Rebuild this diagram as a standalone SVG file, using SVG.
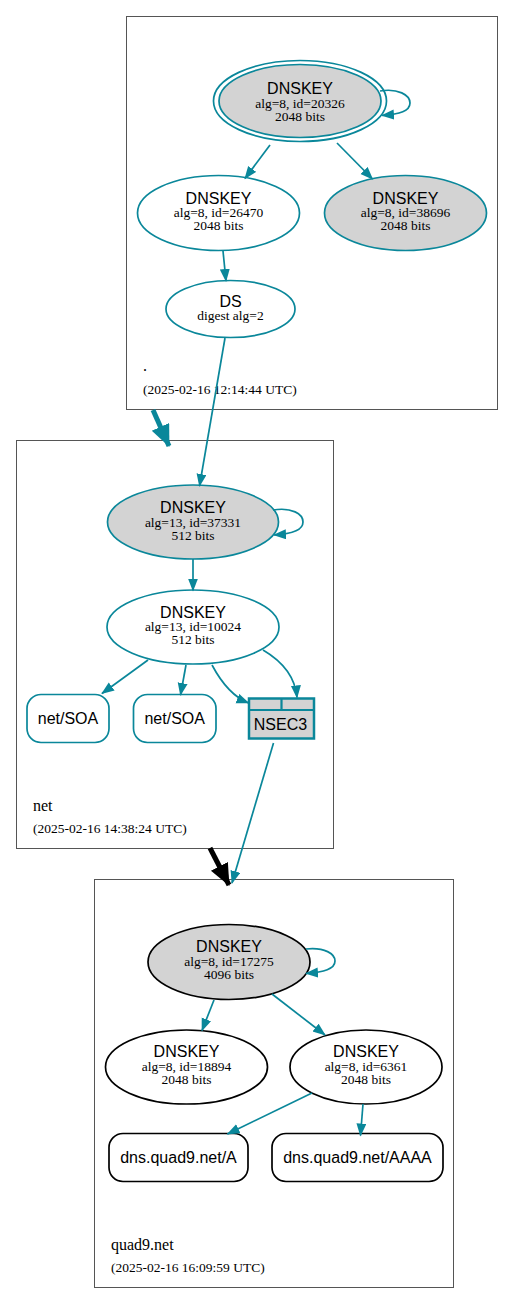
<svg xmlns="http://www.w3.org/2000/svg" width="513" height="1304" viewBox="0 0 513 1304">
<defs>
<style>
.box{fill:none;stroke:#555;stroke-width:1}
.t{stroke:#0a879a;stroke-width:1.7}
.k{stroke:#000;stroke-width:1.7}
.g{fill:#d3d3d3}
.w{fill:#fff}
.e{fill:none;stroke:#0a879a;stroke-width:1.7}
.h{font-family:"Liberation Sans",Arial,sans-serif;font-size:16px;text-anchor:middle;fill:#000}
.d{font-family:"Liberation Serif","Times New Roman",serif;font-size:13.5px;text-anchor:middle;fill:#000}
.lab{font-family:"Liberation Serif","Times New Roman",serif;font-size:16px;fill:#000}
.date{font-family:"Liberation Serif","Times New Roman",serif;font-size:13.5px;fill:#000}
</style>
<marker id="a" markerUnits="userSpaceOnUse" markerWidth="14" markerHeight="11" refX="12" refY="5" orient="auto"><path d="M0,0 L13,5 L0,10 z" fill="#0a879a"/></marker>
<marker id="bt" markerUnits="userSpaceOnUse" markerWidth="24" markerHeight="20" refX="21" refY="9.5" orient="auto"><path d="M0,0 L22,9.5 L0,19 z" fill="#0a879a"/></marker>
<marker id="bk" markerUnits="userSpaceOnUse" markerWidth="24" markerHeight="20" refX="21" refY="9.5" orient="auto"><path d="M0,0 L22,9.5 L0,19 z" fill="#000"/></marker>
</defs>

<g id="zone-root">
<rect class="box" x="126.5" y="16.5" width="371" height="393"/>
<text class="lab" x="143" y="371">.</text>
<text class="date" x="143" y="394">(2025-02-16 12:14:44 UTC)</text>
</g>
<g id="zone-net">
<rect class="box" x="16.5" y="440.5" width="317" height="408"/>
<text class="lab" x="33" y="811">net</text>
<text class="date" x="33" y="833">(2025-02-16 14:38:24 UTC)</text>
</g>
<g id="zone-quad9">
<rect class="box" x="94.5" y="879.5" width="359" height="408"/>
<text class="lab" x="111" y="1250">quad9.net</text>
<text class="date" x="111" y="1272">(2025-02-16 16:09:59 UTC)</text>
</g>

<g id="root-ksk">
<ellipse class="t w" cx="300" cy="101" rx="86.5" ry="40.5"/>
<ellipse class="t g" cx="300" cy="101" rx="81" ry="36.5"/>
<text class="h" x="300" y="94">DNSKEY</text>
<text class="d" x="300" y="108">alg=8, id=20326</text>
<text class="d" x="300" y="121">2048 bits</text>
</g>
<g id="root-zsk">
<ellipse class="t w" cx="218.5" cy="213" rx="81" ry="37.5"/>
<text class="h" x="218.5" y="204">DNSKEY</text>
<text class="d" x="218.5" y="217">alg=8, id=26470</text>
<text class="d" x="218.5" y="230">2048 bits</text>
</g>
<g id="root-key2">
<ellipse class="t g" cx="405.5" cy="213" rx="81" ry="37.5"/>
<text class="h" x="405.5" y="204">DNSKEY</text>
<text class="d" x="405.5" y="217">alg=8, id=38696</text>
<text class="d" x="405.5" y="230">2048 bits</text>
</g>
<g id="net-ds">
<ellipse class="t w" cx="230.5" cy="309" rx="64.5" ry="28.5"/>
<text class="h" x="230.5" y="307">DS</text>
<text class="d" x="230.5" y="320">digest alg=2</text>
</g>

<g id="net-ksk">
<ellipse class="t g" cx="193" cy="522" rx="85.5" ry="37"/>
<text class="h" x="193" y="513">DNSKEY</text>
<text class="d" x="193" y="527">alg=13, id=37331</text>
<text class="d" x="193" y="540">512 bits</text>
</g>
<g id="net-zsk">
<ellipse class="t w" cx="193" cy="627" rx="86" ry="37"/>
<text class="h" x="193" y="618">DNSKEY</text>
<text class="d" x="193" y="631">alg=13, id=10024</text>
<text class="d" x="193" y="644">512 bits</text>
</g>
<g id="net-soa1">
<rect class="t w" x="27" y="694.5" width="82" height="48" rx="14"/>
<text class="h" x="68" y="724">net/SOA</text>
</g>
<g id="net-soa2">
<rect class="t w" x="133.5" y="694.5" width="82.5" height="48" rx="14"/>
<text class="h" x="174.7" y="724">net/SOA</text>
</g>
<g id="net-nsec3">
<rect x="249" y="698.5" width="65" height="40" fill="#d3d3d3" stroke="#0a879a" stroke-width="2.5"/>
<line x1="249" y1="710" x2="314" y2="710" stroke="#0a879a" stroke-width="2.2"/>
<line x1="281.5" y1="698.5" x2="281.5" y2="710" stroke="#0a879a" stroke-width="2.2"/>
<text class="h" x="280.5" y="729.5">NSEC3</text>
</g>

<g id="quad9-ksk">
<ellipse class="k g" cx="229" cy="962" rx="81" ry="37.5"/>
<text class="h" x="229" y="952">DNSKEY</text>
<text class="d" x="229" y="966">alg=8, id=17275</text>
<text class="d" x="229" y="978.5">4096 bits</text>
</g>
<g id="quad9-zsk1">
<ellipse class="k w" cx="186.5" cy="1067" rx="81" ry="37"/>
<text class="h" x="186.5" y="1057">DNSKEY</text>
<text class="d" x="186.5" y="1071">alg=8, id=18894</text>
<text class="d" x="186.5" y="1083.5">2048 bits</text>
</g>
<g id="quad9-zsk2">
<ellipse class="k w" cx="366" cy="1067" rx="76" ry="37"/>
<text class="h" x="366" y="1057">DNSKEY</text>
<text class="d" x="366" y="1071">alg=8, id=6361</text>
<text class="d" x="366" y="1083.5">2048 bits</text>
</g>
<g id="quad9-a">
<rect class="k w" x="109" y="1133.5" width="139" height="48" rx="14"/>
<text class="h" x="178.5" y="1162.5">dns.quad9.net/A</text>
</g>
<g id="quad9-aaaa">
<rect class="k w" x="272" y="1133.5" width="171" height="48" rx="14"/>
<text class="h" x="357.5" y="1162.5">dns.quad9.net/AAAA</text>
</g>

<g id="connectors" fill="none">
<path class="e" d="M380,91 C398,88 410,95 410,103 C410,111 400,114 382,115.5" marker-end="url(#a)"/>
<path class="e" d="M270,145 L245,178.5" marker-end="url(#a)"/>
<path class="e" d="M337,143 L372.5,179" marker-end="url(#a)"/>
<path class="e" d="M223,251 L226,281" marker-end="url(#a)"/>
<path class="e" d="M225,338 L199.5,486" marker-end="url(#a)"/>
<path d="M153,410 L169,446" stroke="#0a879a" stroke-width="5" marker-end="url(#bt)"/>
<path class="e" d="M273,510 C292,507 303,514 303,522 C303,530 292,534 274,535" marker-end="url(#a)"/>
<path class="e" d="M193,559 L193,590.5" marker-end="url(#a)"/>
<path class="e" d="M148,660 L102,693.5" marker-end="url(#a)"/>
<path class="e" d="M186,665 L180.5,695" marker-end="url(#a)"/>
<path class="e" d="M212,665 C220,680 231,696 248.5,703" marker-end="url(#a)"/>
<path class="e" d="M263,650 C280,660 295,675 297,697.5" marker-end="url(#a)"/>
<path class="e" d="M273.5,743 L232,883" marker-end="url(#a)"/>
<path d="M210,848 L229,885" stroke="#000" stroke-width="5" marker-end="url(#bk)"/>
<path class="e" d="M306,949 C325,947 335,954 335,961 C335,969 324,972 306,973.5" marker-end="url(#a)"/>
<path class="e" d="M214,1000 L202,1030.5" marker-end="url(#a)"/>
<path class="e" d="M272,994 L325,1035" marker-end="url(#a)"/>
<path class="e" d="M312,1093 L227.5,1134" marker-end="url(#a)"/>
<path class="e" d="M363,1104 L360.5,1135.5" marker-end="url(#a)"/>
</g>
</svg>
